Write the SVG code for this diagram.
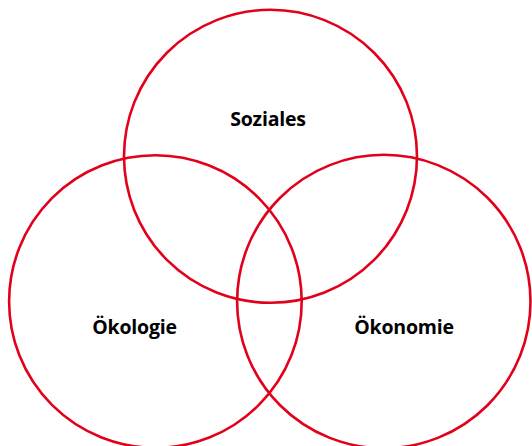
<svg xmlns="http://www.w3.org/2000/svg" width="532" height="446" viewBox="0 0 532 446">
<style>
.c{fill:none;stroke:#e2001a;stroke-width:2.6}
.t{font-family:"Open Sans","Liberation Sans",sans-serif;font-weight:700;font-size:19.5px;fill:#000;text-anchor:middle;letter-spacing:-0.2px}
</style>
<rect width="532" height="446" fill="#fff"/>
<g id="soziales"><circle class="c" cx="270.5" cy="156.3" r="146.5"/><text class="t" x="268" y="126">Soziales</text></g>
<g id="oekologie"><circle class="c" cx="155.4" cy="301.5" r="146.3"/><text class="t" x="134.5" y="334">Ökologie</text></g>
<g id="oekonomie"><circle class="c" cx="383.8" cy="301.5" r="146.7"/><text class="t" x="404" y="334">Ökonomie</text></g>
<g id="connectors"/>
</svg>
